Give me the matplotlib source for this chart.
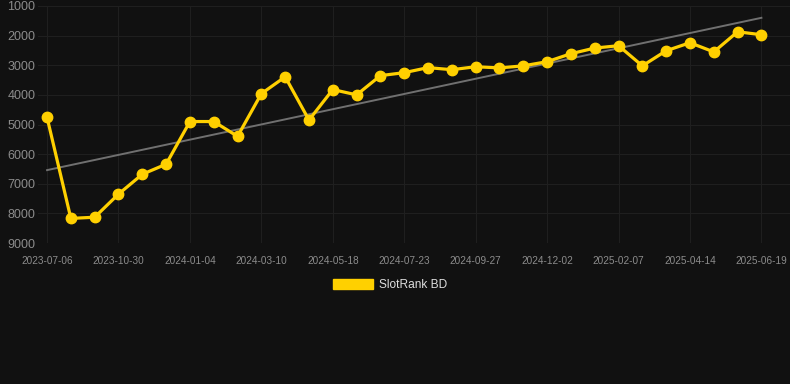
import matplotlib
matplotlib.use("Agg")
import matplotlib.pyplot as plt
import numpy as np

# Tick labels (every 3rd point of the series)
tick_labels = ["2023-07-06", "2023-10-30", "2024-01-04", "2024-03-10", "2024-05-18",
               "2024-07-23", "2024-09-27", "2024-12-02", "2025-02-07", "2025-04-14",
               "2025-06-19"]

# Rank values (lower is better)
ranks = [4760, 8170, 8130, 7350, 6680, 6340, 4900, 4900, 5400, 3960,
         3390, 4850, 3820, 4000, 3350, 3250, 3080, 3150, 3050, 3090,
         3020, 2880, 2610, 2420, 2340, 3020, 2510, 2240, 2550, 1870,
         1970]
series_name = "SlotRank BD"

bg = "#111111"
yellow = "#FFD000"

plt.rcParams["font.family"] = ["Liberation Sans", "DejaVu Sans"]

fig = plt.figure(figsize=(7.9, 3.84), dpi=100, facecolor=bg)
ax = fig.add_axes([38 / 790, 1 - 243 / 384, 1 - 38 / 790, 237 / 384])
ax.set_facecolor(bg)

x = np.arange(len(ranks))

# linear trend
k, b = np.polyfit(x, ranks, 1)
ax.plot(x, k * x + b, color="#707070", lw=1.4, zorder=2)

ax.plot(x, ranks, color=yellow, lw=2.3, marker="o", markersize=7.5,
        label=series_name, zorder=3)

ax.set_ylim(9000, 1000)
ax.set_yticks(np.arange(1000, 9001, 1000))
ax.set_xlim(-0.38, 31.2)
ax.set_xticks(x[::3])
ax.set_xticklabels(tick_labels)

ax.grid(True, color="#1f1f1f", lw=0.8)
ax.set_axisbelow(True)
for s in ax.spines.values():
    s.set_visible(False)
ax.tick_params(axis="y", length=0, pad=2, labelsize=9, labelcolor="#8c8c8c")
ax.tick_params(axis="x", length=0, pad=9, labelsize=7.2, labelcolor="#8c8c8c")

# legend as a bar patch
handle = plt.Rectangle((0, 0), 1, 1, color=yellow)
leg = fig.legend([handle], [series_name], loc="center", bbox_to_anchor=(0.494, 1 - 285 / 384),
                 frameon=False, fontsize=8.6, handlelength=3.4, handleheight=1.0,
                 handletextpad=0.5, labelcolor="#dddddd")

fig.savefig("out.png", dpi=100, facecolor=bg)
